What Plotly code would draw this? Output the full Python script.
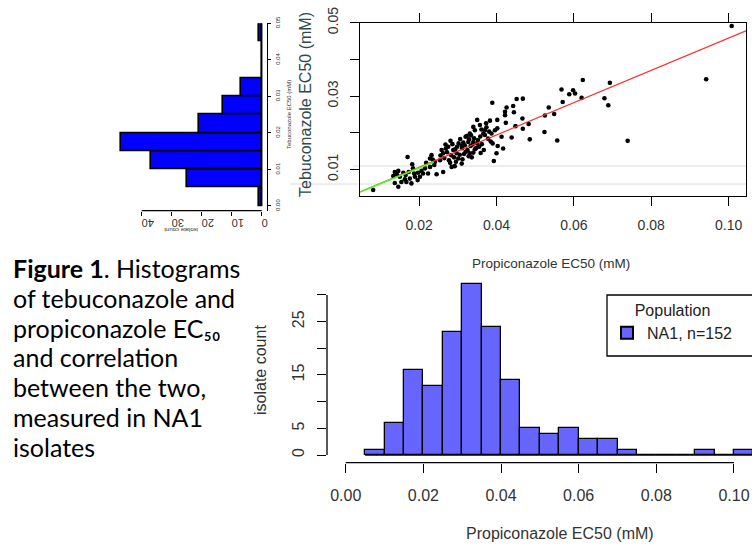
import plotly.graph_objects as go

W, H = 752, 545

# ---------------- data ----------------
# scatter: propiconazole EC50 (x) vs tebuconazole EC50 (y), mM
prop_ec50 = [
    0.1008, 0.0942, 0.0739, 0.0693, 0.0689, 0.0679, 0.0623, 0.0620, 0.0603, 0.0598,
    0.0588, 0.0568, 0.0571, 0.0557, 0.0549, 0.0535, 0.0525, 0.0524, 0.0486, 0.0483,
    0.0468, 0.0468, 0.0467, 0.0452, 0.0449, 0.0443, 0.0439, 0.0426, 0.0422, 0.0422,
    0.0424, 0.0417, 0.0403, 0.0402, 0.0389, 0.0393, 0.0413, 0.0402,
    0.0350, 0.0383, 0.0340, 0.0361, 0.0374, 0.0381, 0.0387, 0.0396, 0.0370, 0.0331,
    0.0323, 0.0329, 0.0340, 0.0350, 0.0355, 0.0344, 0.0333, 0.0314, 0.0310, 0.0298,
    0.0286, 0.0275, 0.0269, 0.0258, 0.0262, 0.0288, 0.0297, 0.0316, 0.0331, 0.0336,
    0.0359, 0.0367, 0.0390, 0.0400, 0.0232, 0.0228, 0.0241, 0.0254,
    0.0373, 0.0370, 0.0344, 0.0445,
    0.0170, 0.0182, 0.0184, 0.0137, 0.0146, 0.0159, 0.0173, 0.0187, 0.0197, 0.0206,
    0.0215, 0.0228, 0.0239, 0.0133, 0.0150, 0.0163, 0.0176, 0.0189, 0.0196, 0.0154,
    0.0167, 0.0180, 0.0137, 0.0146, 0.0202, 0.0210, 0.0223, 0.0081,
    0.0245, 0.0262, 0.0284, 0.0292, 0.0310, 0.0277, 0.0301,
    0.0142, 0.0165,
    0.0218, 0.0235, 0.0255, 0.0265, 0.0272, 0.0280, 0.0283, 0.0290, 0.0295, 0.0305,
    0.0312, 0.0320, 0.0328, 0.0340,
    0.0268, 0.0281, 0.0293, 0.0302, 0.0306, 0.0311, 0.0318, 0.0320, 0.0325, 0.0327,
    0.0334, 0.0338, 0.0342, 0.0347, 0.0352, 0.0358, 0.0362, 0.0366, 0.0378, 0.0385,
    0.0357,
]
teb_ec50 = [
    0.0491, 0.0346, 0.0178, 0.0336, 0.0275, 0.0294, 0.0344, 0.0295, 0.0307, 0.0316,
    0.0305, 0.0318, 0.0284, 0.0179, 0.0251, 0.0269, 0.0247, 0.0202, 0.0182, 0.0224,
    0.0293, 0.0211, 0.0239, 0.0292, 0.0218, 0.0273, 0.0187, 0.0269, 0.0257, 0.0248,
    0.0227, 0.0157, 0.0164, 0.0235, 0.0282, 0.0123, 0.0189, 0.0212,
    0.0235, 0.0233, 0.0216, 0.0209, 0.0215, 0.0203, 0.0198, 0.0207, 0.0194, 0.0198,
    0.0191, 0.0182, 0.0175, 0.0171, 0.0162, 0.0155, 0.0164, 0.0173, 0.0164, 0.0162,
    0.0169, 0.0162, 0.0157, 0.0153, 0.0144, 0.0153, 0.0144, 0.0142, 0.0144, 0.0133,
    0.0145, 0.0153, 0.0171, 0.0144, 0.0139, 0.0130, 0.0121, 0.0125,
    0.0226, 0.0207, 0.0207, 0.0256,
    0.0134, 0.0114, 0.0103, 0.0093, 0.0096, 0.0091, 0.0093, 0.0089, 0.0091, 0.0096,
    0.0103, 0.0107, 0.0112, 0.0082, 0.0080, 0.0073, 0.0075, 0.0080, 0.0071, 0.0066,
    0.0066, 0.0062, 0.0063, 0.0053, 0.0080, 0.0089, 0.0089, 0.0044,
    0.0087, 0.0093, 0.0107, 0.0109, 0.0116, 0.0125, 0.0130,
    0.0087, 0.0085,
    0.0118, 0.0127, 0.0138, 0.0131, 0.0147, 0.0118, 0.0139, 0.0133, 0.0121, 0.0140,
    0.0128, 0.0148, 0.0136, 0.0146,
    0.0168, 0.0178, 0.0155, 0.0171, 0.0183, 0.0158, 0.0166, 0.0189, 0.0153, 0.0175,
    0.0193, 0.0168, 0.0185, 0.0158, 0.0180, 0.0190, 0.0169, 0.0198, 0.0184, 0.0176,
    0.0221,
]

# regression lines
red_fit_intercept, red_fit_slope = 0.0018, 0.44
green_fit_intercept, green_fit_slope, green_fit_xmax = 0.0018, 0.43, 0.0238

# tebuconazole histogram (left, horizontal)
teb_bin_edges = [0.000, 0.005, 0.010, 0.015, 0.020, 0.025, 0.030, 0.035, 0.040, 0.045, 0.050]
teb_counts = [1, 25, 37, 47, 21, 13, 7, 0, 0, 1]
teb_ticks = [0.00, 0.01, 0.02, 0.03, 0.04, 0.05]
teb_tick_labels = ["0.00", "0.01", "0.02", "0.03", "0.04", "0.05"]
count_ticks_left = [0, 10, 20, 30, 40]

# propiconazole histogram (bottom)
prop_bin_edges = [round(0.005 + 0.005 * i, 3) for i in range(21)]
prop_counts = [1, 6, 16, 13, 23, 32, 24, 14, 5, 4, 5, 3, 3, 1, 0, 0, 0, 1, 0, 1]
prop_ticks = [0.00, 0.02, 0.04, 0.06, 0.08, 0.10]
prop_tick_labels = ["0.00", "0.02", "0.04", "0.06", "0.08", "0.10"]
count_ticks_bottom = [0, 5, 15, 25]          # labelled
count_ticks_bottom_minor = [10, 20, 30]      # tick marks without labels

sc_yticks = [0.01, 0.03, 0.05]
sc_yticks_minor = [0.02, 0.04]
sc_xticks = [0.02, 0.04, 0.06, 0.08, 0.10]
sc_xtick_labels = ["0.02", "0.04", "0.06", "0.08", "0.10"]

caption_lines = [
    "<b>Figure 1</b>. Histograms",
    "of tebuconazole and",
    "propiconazole EC\u2085\u2080",
    "and correlation",
    "between the two,",
    "measured in NA1",
    "isolates",
]

# ---------------- layout helpers (pixels -> paper) ----------------
def PX(x):
    return x / W

def PY(y):
    return 1 - y / H

def to_paper(v, dom, rng):
    return dom[0] + (v - rng[0]) / (rng[1] - rng[0]) * (dom[1] - dom[0])

# scatter panel
sc_xdom = [PX(360), PX(746)]
sc_ydom = [PY(195.5), PY(22.7)]
sc_xrng = [0.0047, 0.1045]
sc_yrng = [0.0029, 0.0500]

# left histogram panel
lh_xdom = [PX(118), PX(266.7)]
lh_xrng = [47.9, -1.667]
lh_ydom = [PY(210.7), PY(23.3)]
lh_yrng = [-0.00129, 0.0500]

# bottom histogram panel
bh_xdom = [PX(327), 1.0]
bh_xrng = [-0.00482, 0.10464]
bh_ydom = [PY(462.7), PY(280)]
bh_yrng = [-1.444, 32.81]

AX_FONT = "Liberation Sans, Arial, sans-serif"
fig = go.Figure()

# ---- left histogram (tebuconazole) ----
teb_centers = [(teb_bin_edges[i] + teb_bin_edges[i + 1]) / 2 for i in range(len(teb_counts))]
teb_width = [teb_bin_edges[i + 1] - teb_bin_edges[i] for i in range(len(teb_counts))]
fig.add_trace(go.Scatter(
    x=[0, 0], y=[teb_bin_edges[0], teb_bin_edges[-1]], mode="lines",
    line=dict(color="black", width=1.5), xaxis="x2", yaxis="y2",
    showlegend=False, hoverinfo="skip"))
fig.add_trace(go.Bar(
    x=teb_counts, y=teb_centers, width=teb_width, orientation="h",
    marker=dict(color="#0000ff", line=dict(color="black", width=1.6)),
    xaxis="x2", yaxis="y2", showlegend=False))

# ---- scatter ----
fig.add_trace(go.Scatter(
    x=prop_ec50, y=teb_ec50, mode="markers",
    marker=dict(color="black", size=4.6),
    xaxis="x", yaxis="y", showlegend=False))
fit_x = [sc_xrng[0], sc_xrng[1]]
fig.add_trace(go.Scatter(
    x=fit_x, y=[red_fit_intercept + red_fit_slope * v for v in fit_x], mode="lines",
    line=dict(color="#ff2a2a", width=1.2), xaxis="x", yaxis="y", showlegend=False))
gfit_x = [sc_xrng[0], green_fit_xmax]
fig.add_trace(go.Scatter(
    x=gfit_x, y=[green_fit_intercept + green_fit_slope * v for v in gfit_x], mode="lines",
    line=dict(color="#44ff22", width=1.6), xaxis="x", yaxis="y", showlegend=False))

# ---- bottom histogram (propiconazole) ----
prop_centers = [(prop_bin_edges[i] + prop_bin_edges[i + 1]) / 2 for i in range(len(prop_counts))]
prop_width = [prop_bin_edges[i + 1] - prop_bin_edges[i] for i in range(len(prop_counts))]
fig.add_trace(go.Scatter(
    x=[prop_bin_edges[0], prop_bin_edges[-1]], y=[0, 0], mode="lines",
    line=dict(color="black", width=1.3), xaxis="x3", yaxis="y3",
    showlegend=False, hoverinfo="skip"))
fig.add_trace(go.Bar(
    x=prop_centers, y=prop_counts, width=prop_width,
    marker=dict(color="#6666ff", line=dict(color="black", width=1.3)),
    name="NA1, n=152", xaxis="x3", yaxis="y3", showlegend=True))

tick_common = dict(ticks="outside", tickcolor="black", showgrid=False, zeroline=False,
                   automargin=False)

fig.update_layout(
    width=W, height=H, margin=dict(l=0, r=0, t=0, b=0, pad=0, autoexpand=False),
    paper_bgcolor="white", plot_bgcolor="rgba(0,0,0,0)",
    font=dict(family=AX_FONT, color="#222"),
    bargap=0,
    xaxis=dict(domain=sc_xdom, range=sc_xrng, anchor="y", showline=True, mirror="ticks",
               linecolor="black", linewidth=1.3, tickvals=sc_xticks, ticktext=sc_xtick_labels,
               ticklen=9, tickfont=dict(size=14, color="#333"), ticklabelstandoff=8,
               **tick_common),
    yaxis=dict(domain=sc_ydom, range=sc_yrng, anchor="x", showline=True, mirror=True,
               linecolor="black", linewidth=1.3, tickvals=sc_yticks,
               ticktext=[f"{v:.2f}" for v in sc_yticks],
               ticklen=9, tickangle=-90, tickfont=dict(size=14, color="#333"),
               ticklabelstandoff=6,
               minor=dict(tickvals=sc_yticks_minor, ticks="outside", ticklen=9,
                          tickcolor="black", showgrid=False),
               **tick_common),
    xaxis2=dict(domain=lh_xdom, range=lh_xrng, anchor="y2", showline=False,
                tickvals=count_ticks_left, ticklen=4, tickangle=180,
                tickfont=dict(size=11, color="#333"), ticklabelstandoff=1, **tick_common),
    yaxis2=dict(domain=lh_ydom, range=lh_yrng, anchor="x2", side="right", showline=True,
                linecolor="black", linewidth=1.2, tickvals=teb_ticks, ticktext=teb_tick_labels,
                ticklen=3, tickangle=-90, tickfont=dict(size=6, color="#333"),
                ticklabelstandoff=2, **tick_common),
    xaxis3=dict(domain=bh_xdom, range=bh_xrng, anchor="y3", showline=False,
                tickvals=prop_ticks, ticktext=prop_tick_labels, ticklen=9,
                tickfont=dict(size=16, color="#333"), ticklabelstandoff=9, **tick_common),
    yaxis3=dict(domain=bh_ydom, range=bh_yrng, anchor="x3", showline=False,
                tickvals=count_ticks_bottom, ticktext=[str(v) for v in count_ticks_bottom],
                ticklen=9, tickangle=-90, tickfont=dict(size=16, color="#333"),
                ticklabelstandoff=7,
                minor=dict(tickvals=count_ticks_bottom_minor, ticks="outside", ticklen=9,
                           tickcolor="black", showgrid=False),
                **tick_common),
    legend=dict(x=PX(607), y=PY(295), xanchor="left", yanchor="top",
                borderwidth=0, bgcolor="rgba(0,0,0,0)",
                font=dict(size=16, color="#222", family=AX_FONT),
                title=dict(text="Population", side="top center",
                           font=dict(size=16, color="#222", family=AX_FONT)),
                itemsizing="constant"),
)

shapes = []
# legend frame (runs off the right edge as in the original)
shapes.append(dict(type="rect", xref="paper", yref="paper", x0=PX(607), x1=PX(770),
                   y0=PY(356), y1=PY(295), fillcolor="white",
                   line=dict(color="black", width=1.3), layer="above"))
# R-style axis lines (span only the tick range)
y_line = to_paper(lh_yrng[0], lh_ydom, lh_yrng)
shapes.append(dict(type="line", xref="paper", yref="paper",
                   x0=to_paper(count_ticks_left[0], lh_xdom, lh_xrng),
                   x1=to_paper(count_ticks_left[-1], lh_xdom, lh_xrng),
                   y0=y_line, y1=y_line, line=dict(color="black", width=1.2)))
y_line = to_paper(bh_yrng[0], bh_ydom, bh_yrng)
shapes.append(dict(type="line", xref="paper", yref="paper",
                   x0=to_paper(prop_ticks[0], bh_xdom, bh_xrng),
                   x1=to_paper(prop_ticks[-1], bh_xdom, bh_xrng),
                   y0=y_line, y1=y_line, line=dict(color="black", width=1.3)))
x_line = to_paper(bh_xrng[0], bh_xdom, bh_xrng)
shapes.append(dict(type="line", xref="paper", yref="paper",
                   x0=x_line, x1=x_line,
                   y0=to_paper(count_ticks_bottom[0], bh_ydom, bh_yrng),
                   y1=to_paper(count_ticks_bottom_minor[-1], bh_ydom, bh_yrng),
                   line=dict(color="black", width=1.3)))
# faint grey artefact lines in the scanned figure
shapes.append(dict(type="line", xref="paper", yref="paper", x0=PX(353), x1=PX(746),
                   y0=PY(166), y1=PY(166), line=dict(color="#dcdcdc", width=1), layer="below"))
shapes.append(dict(type="line", xref="paper", yref="paper", x0=PX(290), x1=PX(746),
                   y0=PY(184), y1=PY(184), line=dict(color="#dcdcdc", width=1), layer="below"))
fig.update_layout(shapes=shapes)


def label(text, x, y, size, color="#333", angle=0, family=AX_FONT, xanchor="center"):
    return dict(text=text, textangle=angle, x=PX(x), y=PY(y), xref="paper", yref="paper",
                xanchor=xanchor, yanchor="middle", showarrow=False,
                font=dict(size=size, color=color, family=family))


ann = [
    label("Tebuconazole EC50 (mM)", 306, 105, 16, color="#2e4a4a", angle=-90),
    label("Propiconazole EC50 (mM)", 551, 263, 13.5),
    label("Tebuconazole EC50 (mM)", 289, 115, 6, angle=-90),
    label("isolate count", 181, 230, 6, angle=180),
    label("Propiconazole EC50 (mM)", 560, 533, 16),
    label("isolate count", 260, 370, 16, angle=-90),
]
CAP_SIZE = 25
cap_first_baseline, cap_pitch = 278, 29.7
for i, line in enumerate(caption_lines):
    base = cap_first_baseline + i * cap_pitch
    ann.append(label(line, 11, base - 0.387 * CAP_SIZE, CAP_SIZE, color="black",
                     family="Lato, Noto Sans, sans-serif", xanchor="left"))
fig.update_layout(annotations=ann)

fig.write_html("out.html", config={"displayModeBar": False},
               post_script="document.body.style.margin='0px';")
